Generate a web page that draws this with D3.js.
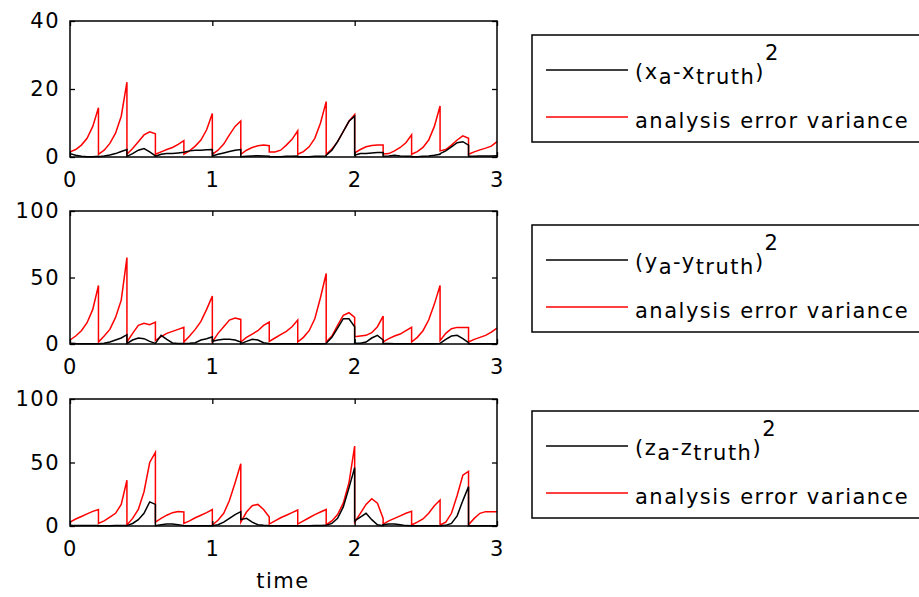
<!DOCTYPE html>
<html>
<head>
<meta charset="utf-8">
<script src="https://cdn.jsdelivr.net/npm/d3@7"></script>
<style>
  body { margin: 0; background: #fff; }
  svg { display: block; font-family: "DejaVu Sans", sans-serif; }
</style>
</head>
<body>
<svg id="chart" width="919" height="597"></svg>
<script>
// analysis every 0.2 time units, values read at these offsets inside each window
var windowStarts = [0, 0.2, 0.4, 0.6, 0.8, 1.0, 1.2, 1.4, 1.6, 1.8, 2.0, 2.2, 2.4, 2.6, 2.8];
var windowOffsets = [0, 0.04, 0.08, 0.12, 0.16, 0.2];

var xVariance = [
  [1.5, 2.2, 3.5, 5.5, 9, 14.5],
  [0.8, 2, 4, 7, 12, 22],
  [0.8, 2.5, 4.5, 6.5, 7.4, 6.8],
  [0.8, 1.5, 2.2, 2.8, 3.7, 4.8],
  [0.8, 1.8, 3.2, 5, 8, 12.8],
  [0.8, 2, 3.8, 6.5, 9, 10.6],
  [0.8, 2, 2.8, 3.3, 3.5, 3.3],
  [1.5, 1.5, 2, 3.5, 5.2, 7.7],
  [0.8, 1.6, 3, 5.5, 10, 16.3],
  [0.8, 2.3, 4.5, 7.5, 10.5, 12.5],
  [1.2, 2.2, 3, 3.4, 3.5, 3.5],
  [0.9, 1, 1.8, 2.8, 4.2, 6.5],
  [0.8, 1.6, 2.8, 5, 9, 15],
  [1.8, 2.2, 3.5, 5, 6.2, 5.5],
  [0.8, 1.5, 2.1, 2.6, 3.2, 4.5]
];
var xSqErr = [
  [1, 0.5, 0.2, 0.1, 0.1, 0.2],
  [0.1, 0.3, 0.6, 1, 1.6, 2.2],
  [0.2, 1, 2, 2.5, 1.5, 0.3],
  [0.2, 0.8, 1, 1, 1.2, 1.4],
  [1.4, 1.8, 2, 2, 2.1, 2.2],
  [0.3, 0.8, 1.2, 1.6, 2, 2.2],
  [0.1, 0.2, 0.3, 0.4, 0.3, 0.2],
  [0.1, 0.1, 0.1, 0.2, 0.2, 0.3],
  [0.1, 0.1, 0.1, 0.2, 0.2, 0.3],
  [0.5, 2, 4.5, 7.5, 10.5, 12],
  [0.5, 1, 1, 1.2, 1.3, 1.3],
  [0.2, 0.3, 0.5, 0.3, 0.2, 0.2],
  [0.1, 0.1, 0.2, 0.3, 0.5, 0.8],
  [1, 1.8, 3, 4.2, 4.5, 3.5],
  [0.2, 0.2, 0.3, 0.3, 0.3, 0.4]
];

var yVariance = [
  [3, 6, 10, 16, 26, 44],
  [1.5, 6, 11, 20, 33, 65],
  [1.5, 8, 14, 15.5, 14.5, 16.5],
  [2.5, 5.5, 8, 9.5, 11, 12.5],
  [1.5, 6, 11, 17, 26, 36],
  [1.5, 8, 13, 18, 19.5, 18.5],
  [1.5, 5, 7.5, 10, 14, 16.5],
  [2, 4.5, 7, 9.5, 13, 18],
  [1.5, 5, 10, 19, 35, 53],
  [1.5, 6, 14, 21.5, 23.5, 20],
  [5.5, 6, 6.5, 8.5, 13, 21],
  [1.5, 4, 6, 7.5, 10, 12.5],
  [1.5, 5, 10, 18, 30, 44],
  [2.5, 8, 11.5, 12.5, 12.5, 12.5],
  [1.5, 3.5, 5, 6.5, 9, 12]
];
var ySqErr = [
  [0.5, 0.3, 0.2, 0.2, 0.2, 0.2],
  [0.2, 0.5, 1.5, 3, 4.5, 7],
  [0.5, 3, 4.5, 4, 2, 0.5],
  [0.5, 6.5, 3.5, 0.8, 0.3, 0.3],
  [0.3, 0.5, 1, 3, 4, 5.5],
  [2, 3, 3.5, 3.5, 3, 1.5],
  [0.3, 2, 3.5, 3, 1, 0.3],
  [0.2, 0.2, 0.2, 0.2, 0.2, 0.2],
  [0.2, 0.2, 0.2, 0.2, 0.2, 0.3],
  [0.5, 5, 12, 19, 19, 13],
  [0.5, 0.5, 1.5, 4.5, 6.5, 3],
  [0.3, 0.3, 0.2, 0.2, 0.2, 0.2],
  [0.2, 0.2, 0.2, 0.2, 0.2, 0.3],
  [0.5, 3.5, 6, 6.5, 4, 1],
  [0.2, 0.2, 0.2, 0.2, 0.2, 0.2]
];

var zVariance = [
  [3, 5.5, 7.5, 9.5, 11.5, 13],
  [2, 4, 7, 10, 17, 36],
  [0.8, 6, 13, 27, 50, 58],
  [3, 6, 8.5, 10.5, 11.5, 11],
  [2, 4, 6.5, 8.5, 10.5, 13],
  [0.8, 4.5, 10, 20, 34, 49],
  [3, 11, 16, 17, 13, 7],
  [1.5, 4, 6.5, 8.5, 10.5, 12.6],
  [1.5, 4, 6.5, 9, 11, 13],
  [1, 4, 9, 18, 34, 63],
  [3, 10, 17, 21.5, 18, 6],
  [1.5, 4, 6, 8, 10, 11.5],
  [0.8, 3, 5.5, 10, 16, 20.5],
  [0.8, 3, 10, 24, 40, 43],
  [1, 6, 10, 11.3, 11.3, 11.3]
];
var zSqErr = [
  [0.3, 0.3, 0.3, 0.3, 0.3, 0.3],
  [0.2, 0.2, 0.2, 0.3, 0.3, 0.3],
  [0.3, 2, 5, 10, 19, 17],
  [0.3, 1, 1.5, 1.5, 1, 0.3],
  [0.2, 0.2, 0.2, 0.2, 0.2, 0.2],
  [0.2, 1, 3, 6, 9, 11.3],
  [5, 6, 3, 1, 0.5, 0.3],
  [0.2, 0.2, 0.2, 0.2, 0.2, 0.2],
  [0.2, 0.2, 0.2, 0.3, 0.4, 0.5],
  [0.5, 2, 6, 15, 30, 46],
  [4, 7, 10, 5, 1, 0.3],
  [1, 1.5, 1.5, 1, 0.3, 0.2],
  [0.2, 0.2, 0.2, 0.2, 0.2, 0.2],
  [0.2, 0.5, 2, 8, 20, 31],
  [0.2, 0.2, 0.2, 0.2, 0.2, 0.2]
];

var xTicks = [0, 1, 2, 3];
var yTicksX = [0, 20, 40];
var yTicksYZ = [0, 50, 100];
var varNames = ['x', 'y', 'z'];
var varianceLabel = 'analysis error variance';
var timeLabel = 'time';

// one entry per subplot: where it sits and what it shows
var panels = [
  {top: 21, bottom: 157, ymax: 40, ticks: yTicksX, err: xSqErr, variance: xVariance, legendTop: 35},
  {top: 211, bottom: 344, ymax: 100, ticks: yTicksYZ, err: ySqErr, variance: yVariance, legendTop: 225},
  {top: 399, bottom: 526, ymax: 100, ticks: yTicksYZ, err: zSqErr, variance: zVariance, legendTop: 411}
];

var svg = d3.select('#chart');
var x = d3.scaleLinear().domain([0, 3]).range([70, 497]);

function toPoints(windows) {
  var pts = [];
  windows.forEach(function(vals, w) {
    vals.forEach(function(v, k) {
      pts.push({t: windowStarts[w] + windowOffsets[k], v: v});
    });
  });
  return pts;
}

function styleAxis(g, showText) {
  g.attr('font-family', null).attr('font-size', null);
  g.select('.domain').remove();
  g.selectAll('.tick line').attr('stroke', '#000').attr('stroke-width', 1.3);
  if (showText) {
    g.selectAll('.tick text')
      .attr('fill', '#000')
      .style('font-size', '21px')
      .style('letter-spacing', '1.5px');
  } else {
    g.selectAll('.tick text').remove();
  }
}

panels.forEach(function(p, i) {
  var y = d3.scaleLinear().domain([0, p.ymax]).range([p.bottom, p.top]);
  var g = svg.append('g');

  var line = d3.line()
    .x(function(d) { return x(d.t); })
    .y(function(d) { return y(d.v); });

  g.append('path')
    .datum(toPoints(p.variance))
    .attr('d', line)
    .attr('fill', 'none')
    .attr('stroke', '#ff0000')
    .attr('stroke-width', 1.5);

  g.append('path')
    .datum(toPoints(p.err))
    .attr('d', line)
    .attr('fill', 'none')
    .attr('stroke', '#000')
    .attr('stroke-width', 1.5);

  // axes, ticks pointing inward on all four sides
  g.append('g').attr('transform', 'translate(70,0)')
    .call(d3.axisLeft(y).tickValues(p.ticks).tickFormat(d3.format('d')).tickSizeInner(-5).tickSizeOuter(0).tickPadding(10))
    .call(styleAxis, true);
  g.append('g').attr('transform', 'translate(497,0)')
    .call(d3.axisRight(y).tickValues(p.ticks).tickSizeInner(-5).tickSizeOuter(0))
    .call(styleAxis, false);
  g.append('g').attr('transform', 'translate(0,' + p.bottom + ')')
    .call(d3.axisBottom(x).tickValues(xTicks).tickFormat(d3.format('d')).tickSizeInner(-5).tickSizeOuter(0).tickPadding(15))
    .call(styleAxis, true);
  g.append('g').attr('transform', 'translate(0,' + p.top + ')')
    .call(d3.axisTop(x).tickValues(xTicks).tickSizeInner(-5).tickSizeOuter(0))
    .call(styleAxis, false);

  g.append('rect')
    .attr('x', 70).attr('y', p.top)
    .attr('width', 427).attr('height', p.bottom - p.top)
    .attr('fill', 'none').attr('stroke', '#000').attr('stroke-width', 1.5);

  // legend box runs off the right edge of the figure
  var lt = p.legendTop;
  var lg = svg.append('g').style('font-size', '21px').style('letter-spacing', '1.5px');
  lg.append('rect')
    .attr('x', 532).attr('y', lt).attr('width', 420).attr('height', 107)
    .attr('fill', '#fff').attr('stroke', '#000').attr('stroke-width', 1.5);

  var l1 = lt + 35, l2 = lt + 82;
  lg.append('line').attr('x1', 546).attr('x2', 628).attr('y1', l1).attr('y2', l1)
    .attr('stroke', '#000').attr('stroke-width', 1.5);
  lg.append('line').attr('x1', 546).attr('x2', 628).attr('y1', l2).attr('y2', l2)
    .attr('stroke', '#ff0000').attr('stroke-width', 1.5);

  var v = varNames[i];
  var t1 = lg.append('text').attr('x', 635).attr('y', l1 + 9).attr('fill', '#000');
  t1.append('tspan').text('(' + v);
  t1.append('tspan').attr('dy', 5).text('a');
  t1.append('tspan').attr('dy', -5).text('-' + v);
  t1.append('tspan').attr('dy', 5).text('truth');
  t1.append('tspan').attr('dy', -5).text(')');
  t1.append('tspan').attr('dy', -19).text('2');

  lg.append('text').attr('x', 635).attr('y', l2 + 11).attr('fill', '#000').text(varianceLabel);
});

svg.append('text')
  .attr('x', 283).attr('y', 588)
  .attr('text-anchor', 'middle')
  .style('font-size', '21px').style('letter-spacing', '1.5px')
  .text(timeLabel);
</script>
</body>
</html>
